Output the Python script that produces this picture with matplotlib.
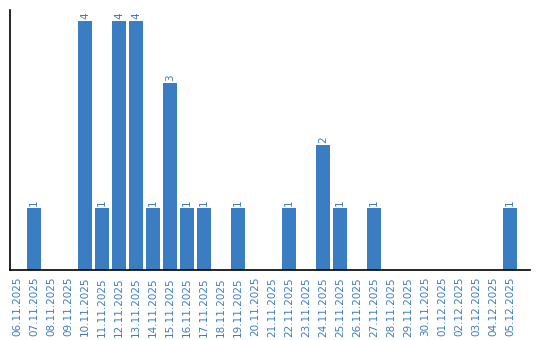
import matplotlib
matplotlib.use("Agg")
import matplotlib.pyplot as plt

dates = ["06.11.2025", "07.11.2025", "08.11.2025", "09.11.2025", "10.11.2025",
         "11.11.2025", "12.11.2025", "13.11.2025", "14.11.2025", "15.11.2025",
         "16.11.2025", "17.11.2025", "18.11.2025", "19.11.2025", "20.11.2025",
         "21.11.2025", "22.11.2025", "23.11.2025", "24.11.2025", "25.11.2025",
         "26.11.2025", "27.11.2025", "28.11.2025", "29.11.2025", "30.11.2025",
         "01.12.2025", "02.12.2025", "03.12.2025", "04.12.2025", "05.12.2025"]
counts = [0, 1, 0, 0, 4, 1, 4, 4, 1, 3, 1, 1, 0, 1, 0,
          0, 1, 0, 2, 1, 0, 1, 0, 0, 0, 0, 0, 0, 0, 1]

blue = "#3b7dc2"

fig = plt.figure(figsize=(5.4, 3.4), dpi=100)
ax = fig.add_axes([10 / 540, 70 / 340, 520 / 540, 260 / 340])

x = list(range(len(dates)))
bars = ax.bar(x, counts, width=0.82, color=blue)

# Beschriftung über den Balken
for xi, c in zip(x, counts):
    if c > 0:
        ax.text(xi, c + 0.03, str(c), rotation=90, ha="center", va="bottom",
                color=blue, fontsize=7.5)

ax.set_xlim(-0.41, 30.18)
ax.set_ylim(0, 4.17)
ax.set_xticks(x)
ax.set_xticklabels(dates, rotation=90, color=blue, fontsize=7.5)
ax.tick_params(axis="x", length=0, pad=5)
ax.set_yticks([])
ax.spines["top"].set_visible(False)
ax.spines["right"].set_visible(False)
ax.spines["left"].set_linewidth(1.2)
ax.spines["bottom"].set_linewidth(1.2)

fig.savefig("out.png", dpi=100)
plt.close(fig)
